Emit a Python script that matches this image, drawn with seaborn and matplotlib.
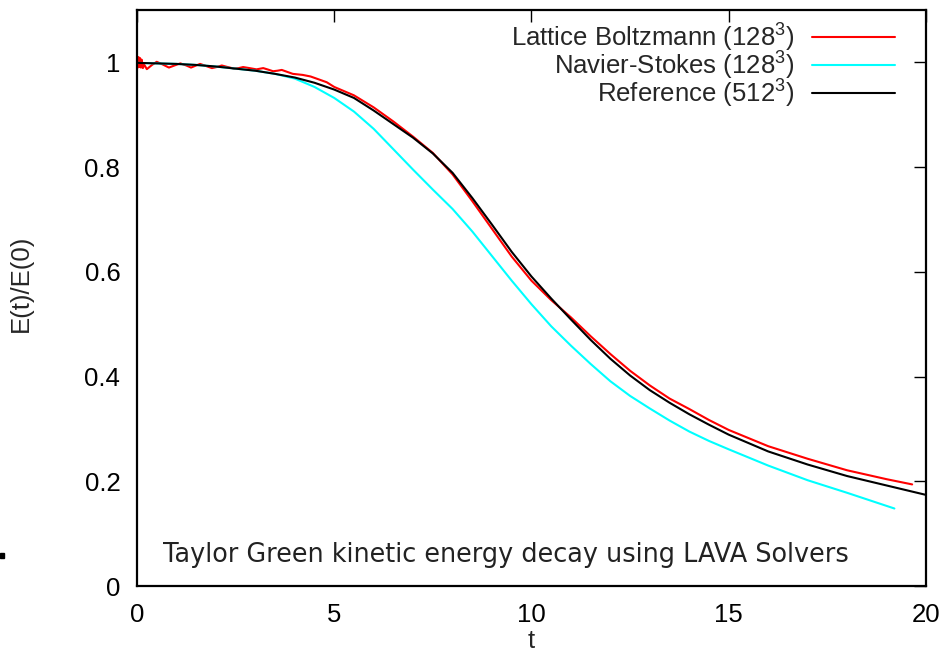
import numpy as np
import pandas as pd
import matplotlib
matplotlib.use("Agg")
from matplotlib import pyplot as plt
from matplotlib.patches import Rectangle
import seaborn as sns

# values
t_ref = [0, 0.5, 1, 1.5, 2, 2.5, 3, 3.5, 4, 4.5, 5, 5.5, 6, 6.5, 7, 7.5, 8, 8.5,
         9, 9.5, 10, 10.5, 11, 11.5, 12, 12.5, 13, 13.5, 14, 14.5, 15, 16, 17,
         18, 19, 20]
e_ref = [0.999, 0.998, 0.997, 0.995, 0.992, 0.988, 0.984, 0.978, 0.971, 0.961,
         0.948, 0.932, 0.908, 0.882, 0.856, 0.826, 0.789, 0.741, 0.690, 0.638,
         0.591, 0.549, 0.509, 0.470, 0.434, 0.402, 0.374, 0.350, 0.328, 0.308,
         0.289, 0.257, 0.232, 0.210, 0.192, 0.174]

t_lb = [0.0, 0.02, 0.04, 0.06, 0.08, 0.10, 0.12, 0.15, 0.18, 0.25, 0.38, 0.5,
        0.65, 0.81, 0.95, 1.1, 1.25, 1.37, 1.5, 1.6, 1.75, 1.9, 2.02, 2.15,
        2.3, 2.46, 2.58, 2.69, 2.85, 3.03, 3.2, 3.33, 3.45, 3.56, 3.67, 3.8,
        3.95, 4.2, 4.4, 4.55, 4.81, 5.0, 5.5, 6, 6.5, 7, 7.5, 8, 8.5, 9, 9.5,
        10, 10.5, 11, 11.5, 12, 12.5, 13, 13.5, 14, 14.5, 15, 16, 17, 18, 19,
        19.65]
e_lb = [1.012, 0.990, 1.010, 0.991, 1.008, 0.990, 1.005, 0.989, 0.996, 0.987,
        0.995, 1.001, 0.996, 0.990, 0.994, 0.998, 0.994, 0.990, 0.994, 0.997,
        0.993, 0.989, 0.991, 0.994, 0.991, 0.988, 0.989, 0.991, 0.989, 0.9866,
        0.989, 0.986, 0.983, 0.984, 0.9855, 0.982, 0.978, 0.976, 0.973, 0.969,
        0.962, 0.953, 0.937, 0.914, 0.887, 0.858, 0.827, 0.786, 0.735, 0.682,
        0.629, 0.583, 0.546, 0.513, 0.477, 0.443, 0.411, 0.383, 0.358, 0.338,
        0.317, 0.298, 0.267, 0.243, 0.221, 0.204, 0.194]

t_ns = [0, 0.5, 1, 1.5, 2, 2.5, 3, 3.5, 4, 4.5, 5, 5.5, 6, 6.5, 7, 7.5, 8, 8.5,
        9, 9.5, 10, 10.5, 11, 11.5, 12, 12.5, 13, 13.5, 14, 14.5, 15, 16, 17,
        18, 19, 19.2]
e_ns = [0.999, 0.998, 0.997, 0.995, 0.992, 0.988, 0.984, 0.978, 0.969, 0.953,
        0.932, 0.906, 0.873, 0.834, 0.795, 0.757, 0.720, 0.677, 0.630, 0.583,
        0.538, 0.496, 0.459, 0.424, 0.391, 0.363, 0.339, 0.316, 0.295, 0.277,
        0.261, 0.230, 0.202, 0.178, 0.153, 0.148]

labels = ["Lattice Boltzmann (128$^3$)", "Navier-Stokes (128$^3$)", "Reference (512$^3$)"]
colors = ["#ff0000", "#00ffff", "#000000"]

sns.set_theme(style="white")
plt.rcParams["font.family"] = ["Liberation Sans", "DejaVu Sans"]
plt.rcParams["mathtext.fontset"] = "custom"
plt.rcParams["mathtext.rm"] = "Liberation Sans"
plt.rcParams["mathtext.it"] = "Liberation Sans"

fig = plt.figure(figsize=(9.44, 6.56), dpi=100)
ax = fig.add_axes([0.1451, 0.1067, 0.8358, 0.8781])

series = [(t_lb, e_lb), (t_ns, e_ns), (t_ref, e_ref)]
for (tt, ee), lab, col in zip(series, labels, colors):
    df = pd.DataFrame({"t": tt, "E": ee})
    sns.lineplot(data=df, x="t", y="E", ax=ax, color=col, lw=1.5,
                 label=lab, estimator=None)

fs = 18.5
ax.set_xlim(0, 20)
ax.set_ylim(0, 1.1)
ax.set_xticks([0, 5, 10, 15, 20])
ax.set_yticks([0, 0.2, 0.4, 0.6, 0.8, 1.0])
ax.set_xticklabels(["0", "5", "10", "15", "20"])
ax.set_yticklabels(["0", "0.2", "0.4", "0.6", "0.8", "1"])
ax.tick_params(direction="in", top=True, right=True, length=8.5, width=1,
               labelsize=fs, colors="black")
ax.tick_params(axis="y", pad=12)
ax.tick_params(axis="x", pad=12)
for s in ax.spines.values():
    s.set_linewidth(1.6)
    s.set_color("black")

ax.set_xlabel("t", fontsize=fs)
ax.set_ylabel("E(t)/E(0)", fontsize=fs)
ax.xaxis.set_label_coords(0.5, -0.075)
ax.yaxis.set_label_coords(-0.132, 0.525)

ax.text(0.66, 0.046, "Taylor Green kinetic energy decay using LAVA Solvers",
        fontsize=18.4, family=["DejaVu Sans"], color="#222222", ha="left", va="baseline")

ax.legend(loc="upper right", bbox_to_anchor=(0.961, 0.98), frameon=False,
          markerfirst=False, fontsize=fs, handlelength=3.25,
          handletextpad=0.66, labelspacing=-0.16, borderpad=0, borderaxespad=0)

fig.add_artist(Rectangle((0, (656 - 558) / 656), 4 / 944, 5 / 656,
                         transform=fig.transFigure, color="black"))

fig.savefig("out.png", dpi=100)
